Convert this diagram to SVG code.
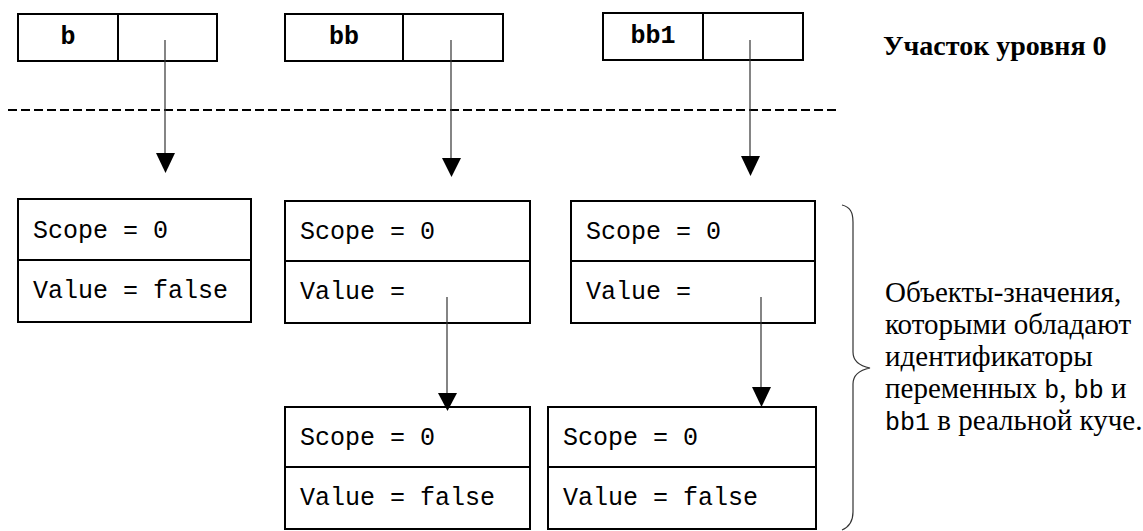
<svg xmlns="http://www.w3.org/2000/svg" width="1143" height="531" viewBox="0 0 1143 531">
<defs>
<style>
.box{fill:#fff;stroke:#000;stroke-width:2}
.div{stroke:#000;stroke-width:2}
.mono{font-family:"Liberation Mono","Courier New",monospace;font-size:25px;fill:#000}
.lbl{font-family:"Liberation Mono","Courier New",monospace;font-size:25px;font-weight:bold;fill:#000;text-anchor:middle}
.serif{font-family:"Liberation Serif","Times New Roman","DejaVu Serif",serif;font-size:28px;fill:#000}
.note{font-size:29px}
.conn{stroke:#333;stroke-width:1.2;fill:none}
.head{fill:#000}
</style>
</defs>
<rect width="1143" height="531" fill="#fff"/>
<g id="var-b">
<rect class="box" x="18" y="14" width="199" height="47"/>
<line class="div" x1="118" y1="14" x2="118" y2="61"/>
<text class="lbl" x="68" y="44">b</text>
</g>
<g id="var-bb">
<rect class="box" x="285" y="14" width="218" height="47"/>
<line class="div" x1="403" y1="14" x2="403" y2="61"/>
<text class="lbl" x="344" y="44">bb</text>
</g>
<g id="var-bb1">
<rect class="box" x="603" y="13" width="200" height="47"/>
<line class="div" x1="703" y1="13" x2="703" y2="60"/>
<text class="lbl" x="653" y="43">bb1</text>
</g>
<g id="level-label">
<text class="serif" x="883" y="55" font-weight="bold">Участок уровня 0</text>
</g>
<g id="separator">
<line x1="8" y1="110" x2="840" y2="110" stroke="#000" stroke-width="2" stroke-dasharray="9,4"/>
</g>
<g id="obj-b">
<rect class="box" x="18" y="199" width="233" height="123"/>
<line class="div" x1="18" y1="260" x2="251" y2="260"/>
<text class="mono" x="33" y="238">Scope = 0</text>
<text class="mono" x="33" y="298">Value = false</text>
</g>
<g id="obj-bb">
<rect class="box" x="285" y="201" width="245" height="122"/>
<line class="div" x1="285" y1="261" x2="530" y2="261"/>
<text class="mono" x="300" y="239">Scope = 0</text>
<text class="mono" x="300" y="299">Value =</text>
</g>
<g id="obj-bb1">
<rect class="box" x="571" y="201" width="244" height="122"/>
<line class="div" x1="571" y1="261" x2="815" y2="261"/>
<text class="mono" x="586" y="239">Scope = 0</text>
<text class="mono" x="586" y="299">Value =</text>
</g>
<g id="obj-bb-val">
<rect class="box" x="285" y="407" width="245" height="122"/>
<line class="div" x1="285" y1="467" x2="530" y2="467"/>
<text class="mono" x="300" y="445">Scope = 0</text>
<text class="mono" x="300" y="505">Value = false</text>
</g>
<g id="obj-bb1-val">
<rect class="box" x="548" y="407" width="268" height="122"/>
<line class="div" x1="548" y1="467" x2="816" y2="467"/>
<text class="mono" x="563" y="445">Scope = 0</text>
<text class="mono" x="563" y="505">Value = false</text>
</g>
<g id="connectors">
<line class="conn" x1="165" y1="40" x2="165" y2="155"/>
<polygon class="head" points="156,153 175,153 165.5,173"/>
<line class="conn" x1="451" y1="40" x2="451" y2="160"/>
<polygon class="head" points="442,158 461,158 451.5,177"/>
<line class="conn" x1="750" y1="40" x2="750" y2="158"/>
<polygon class="head" points="741,156 760,156 750.5,176"/>
<line class="conn" x1="447" y1="297" x2="447" y2="395"/>
<polygon class="head" points="438,393 457,393 447.5,411"/>
<line class="conn" x1="761" y1="297" x2="761" y2="389"/>
<polygon class="head" points="752,387 771,387 761.5,407"/>
</g>
<g id="brace">
<path class="conn" d="M842,205 C850,207 853,212 853,222 L853,352 C853,362 860,366 870,368 C860,370 853,374 853,384 L853,512 C853,522 849,527 842,530"/>
</g>
<g id="note">
<text class="serif note" x="885" y="302">Объекты-значения,</text>
<text class="serif note" x="885" y="334">которыми обладают</text>
<text class="serif note" x="885" y="366">идентификаторы</text>
<text class="serif note" x="885" y="398">переменных <tspan class="mono">b</tspan>, <tspan class="mono">bb</tspan> и</text>
<text class="serif note" x="885" y="430"><tspan class="mono">bb1</tspan> в реальной куче.</text>
</g>
</svg>
